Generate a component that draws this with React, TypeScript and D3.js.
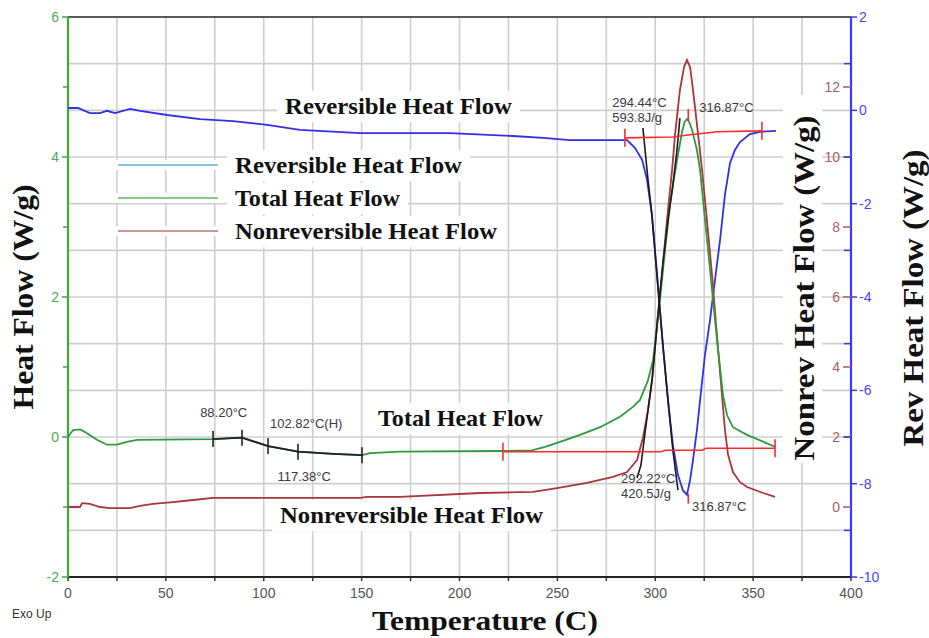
import React from "react";
import * as d3 from "d3";

// ---------------- Data ----------------
const xTickLabels = [0, 50, 100, 150, 200, 250, 300, 350, 400];
const xMinorTicks = [25, 75, 125, 175, 225, 275, 325, 375];
const gridTemps = [25, 50, 75, 100, 125, 150, 175, 200, 225, 250, 275, 300, 325, 350, 375];
const leftTicks = [-2, 0, 2, 4, 6];
const leftMinor = [-1, 1, 3, 5];
const nonrevTicks = [0, 2, 4, 6, 8, 10, 12];
const revTicks = [-10, -8, -6, -4, -2, 0, 2];
const revMinor = [-9, -7, -5, -3, -1, 1];
const gridRev = [-9, -8, -7, -6, -5, -4, -3, -2, -1, 0, 1];

// Reversible heat flow (Rev axis, W/g)
const revT = [0, 5.1, 11.2, 16.3, 19.9, 24, 31.7, 36.8, 50.6, 67.4, 84.3, 101.7, 118.5, 149.2, 195.1, 227.3, 242.7, 256.4, 283.5, 285.6, 289.7, 293.3, 295.8, 298.3, 301.4, 303.9, 306.5, 309, 311.6, 314.1, 316.2, 317.8, 319.3, 321.3, 322.9, 325.4, 328, 330.5, 333.1, 335.6, 338.2, 340.7, 343.3, 348.4, 353.5, 361.7];
const revV = [0.05, 0.05, -0.06, -0.06, -0.01, -0.06, 0.03, -0.01, -0.1, -0.19, -0.23, -0.31, -0.42, -0.49, -0.49, -0.55, -0.59, -0.64, -0.64, -0.64, -0.81, -1.06, -1.49, -2.24, -3.74, -5.03, -6.21, -7.17, -7.81, -8.14, -8.24, -7.92, -7.49, -6.85, -6.21, -5.24, -4.49, -3.64, -2.78, -1.81, -1.13, -0.85, -0.68, -0.51, -0.46, -0.44];

// Total heat flow (left axis, W/g)
const totT = [0, 2.6, 6.1, 8.7, 14.8, 19.9, 25, 30.1, 35.2, 74.1, 88.9, 102.2, 117.5, 135.4, 150.2, 154.3, 169.6, 222.2, 237, 243.7, 251.3, 261.6, 271.8, 282, 288.6, 292.2, 296.3, 298.9, 302.4, 305, 307.5, 309.6, 311.6, 313.7, 315, 316.2, 317.2, 318.8, 321.3, 322.9, 324.4, 327, 329.5, 332.1, 334.6, 336.7, 339.7, 346.9, 357.1, 361.2];
const totV = [0, 0.1, 0.11, 0.07, -0.04, -0.11, -0.11, -0.07, -0.04, -0.03, -0.01, -0.13, -0.21, -0.24, -0.26, -0.23, -0.21, -0.2, -0.19, -0.14, -0.07, 0.03, 0.14, 0.29, 0.43, 0.53, 0.81, 1.1, 1.96, 2.67, 3.31, 3.7, 4.03, 4.36, 4.5, 4.54, 4.51, 4.39, 4.1, 3.81, 3.39, 2.67, 1.96, 1.24, 0.6, 0.31, 0.14, 0.03, -0.09, -0.14];

// Nonreversible heat flow (Nonrev axis, W/g)
const nonT = [0, 6.1, 7.2, 11.2, 16.3, 21.5, 31.7, 36.8, 43.4, 53.6, 63.9, 74.1, 149.2, 152.7, 169.6, 210.5, 237.5, 249.8, 265.1, 278.4, 285.6, 290.7, 293.8, 296.3, 298.4, 301.4, 304, 306, 308.6, 310.1, 312.6, 314.7, 316.2, 317.8, 319.3, 321.8, 323.9, 326.4, 329, 331.5, 334.1, 335.6, 337.2, 339.7, 343.3, 346.9, 355.1, 361.2];
const nonV = [0, 0, 0.11, 0.09, 0, -0.03, -0.03, 0.03, 0.09, 0.14, 0.2, 0.26, 0.26, 0.29, 0.29, 0.4, 0.43, 0.54, 0.69, 0.86, 1.0, 1.34, 2.0, 2.77, 3.66, 5.49, 7.0, 8.2, 9.63, 10.63, 11.91, 12.57, 12.77, 12.57, 11.91, 10.69, 9.63, 8.2, 6.63, 4.91, 3.2, 2.2, 1.49, 1.0, 0.71, 0.57, 0.4, 0.29];

// Glass transition analysis segment (left axis)
const gtT = [74.1, 88.9, 102.2, 117.5, 135.4, 150.2];
const gtV = [-0.03, -0.01, -0.13, -0.21, -0.24, -0.26];
const gtTickT = [74.1, 88.9, 102.2, 117.5, 150.2];
const gtTickV = [-0.03, -0.01, -0.13, -0.21, -0.26];

// Peak analysis overlays
const blk1T = [290.7, 292.7, 294.3, 296.3, 298.4, 301.4, 304, 306.5, 309, 311.1, 312.6]; // nonrev axis
const blk1V = [0.83, 1.2, 1.91, 2.77, 3.63, 5.49, 7.0, 8.2, 9.2, 10.2, 11.11];
const blk2T = [293.7, 294.8, 296.3, 298.3, 301.4, 303.9, 306.5, 309, 311.6]; // rev axis
const blk2V = [-0.38, -0.85, -1.49, -2.24, -3.81, -5.03, -6.21, -7.28, -8.14];

// Integration baselines
const upBaseT = [284.5, 309.1, 316.7, 331.5, 354.5]; // rev axis
const upBaseV = [-0.59, -0.57, -0.53, -0.46, -0.44];
const lowBaseT = [222.2, 303, 305, 324, 326, 361.2]; // left axis
const lowBaseV = [-0.21, -0.21, -0.19, -0.19, -0.16, -0.16];

const peakT = 316.87;
const peakTotV = 4.6;
const peakRevV = -8.3;

// Annotation texts: [text, T, left-axis value]
const annTexts = ["88.20°C", "102.82°C(H)", "117.38°C", "294.44°C", "593.8J/g", "316.87°C", "292.22°C", "420.5J/g", "316.87°C"];
const annT = [67.5, 103.2, 107.0, 278.0, 278.0, 322.5, 282.5, 282.5, 318.8];
const annV = [0.36, 0.2, -0.55, 4.79, 4.57, 4.71, -0.59, -0.8, -0.98];

const seriesNames = ["Reversible Heat Flow", "Total Heat Flow", "Nonreversible Heat Flow"];

// ---------------- Chart ----------------
const W = 929;
const H = 638;
const L = 68, R = 851, T = 17, B = 577;

const x = d3.scaleLinear().domain([0, 400]).range([L, R]);
const yL = d3.scaleLinear().domain([-2, 6]).range([B, T]);
const yN = d3.scaleLinear().domain([-2, 14]).range([B, T]);
const yR = d3.scaleLinear().domain([-10, 2]).range([B, T]);

const SERIF = "'Liberation Serif','Times New Roman',serif";
const SANS = "'Liberation Sans',Arial,sans-serif";

function path(ts: number[], vs: number[], ys: d3.ScaleLinear<number, number>) {
  const gen = d3
    .line<number>()
    .x((d) => x(d))
    .y((_, i) => ys(vs[i]));
  return gen(ts) || "";
}

function BoxText(props: { text: string; x0: number; w: number; cy: number; size: number }) {
  const { text, x0, w, cy, size } = props;
  return (
    <g>
      <rect x={x0 - 8} y={cy - size * 0.62} width={w + 16} height={size * 1.3} fill="#fff" />
      <text
        x={x0}
        y={cy + size * 0.33}
        fontFamily={SERIF}
        fontWeight="bold"
        fontSize={size}
        textLength={w}
        lengthAdjust="spacingAndGlyphs"
        fill="#111"
      >
        {text}
      </text>
    </g>
  );
}

export default function App() {
  const legendColors = ["#5ab4dc", "#5cb85c", "#b87a68"];
  const legendY = [165, 198, 231];
  const legendW = [227, 165, 262];

  return (
    <svg
      width={W}
      height={H}
      viewBox={`0 0 ${W} ${H}`}
      style={{ position: "absolute", left: 0, top: 0, background: "#fff" }}
    >
      <rect x={0} y={0} width={W} height={H} fill="#fff" />
      {/* grid */}
      <g stroke="#cfcfcf" strokeWidth={1.6}>
        {gridTemps.map((t) => (
          <line key={"gx" + t} x1={x(t)} x2={x(t)} y1={T} y2={B} />
        ))}
        {gridRev.map((v) => (
          <line key={"gy" + v} x1={L} x2={R} y1={yR(v)} y2={yR(v)} />
        ))}
      </g>

      {/* white label boxes */}
      <rect x={783} y={95} width={39} height={368} fill="#fff" />
      <BoxText text={seriesNames[0]} x0={285} w={227} cy={106} size={24} />
      {seriesNames.map((s, i) => (
        <g key={"lg" + i}>
          <rect x={112} y={legendY[i] - 5} width={112} height={10} fill="#fff" />
          <BoxText text={s} x0={235} w={legendW[i]} cy={legendY[i]} size={24} />
          <line x1={118} x2={218} y1={legendY[i]} y2={legendY[i]} stroke={legendColors[i]} strokeWidth={1.6} />
        </g>
      ))}
      <BoxText text={seriesNames[1]} x0={378} w={165} cy={418} size={24} />
      <BoxText text={seriesNames[2]} x0={280} w={263} cy={515} size={24} />

      {/* frame */}
      <line x1={L} x2={R} y1={T} y2={T} stroke="#222" strokeWidth={1.6} />
      <line x1={L} x2={R} y1={B} y2={B} stroke="#222" strokeWidth={2} />
      <line x1={L} x2={L} y1={T} y2={B} stroke="#3daa3d" strokeWidth={2.2} />
      <line x1={R} x2={R} y1={T} y2={B} stroke="#3a3aff" strokeWidth={2.2} />

      {/* x ticks */}
      {xTickLabels.map((t) => (
        <g key={"xt" + t}>
          <line x1={x(t)} x2={x(t)} y1={B} y2={B + 4} stroke="#333" strokeWidth={1.5} />
          <text x={x(t)} y={B + 21} textAnchor="middle" fontFamily={SANS} fontSize={14} fill="#555">
            {t}
          </text>
        </g>
      ))}
      {xMinorTicks.map((t) => (
        <line key={"xm" + t} x1={x(t)} x2={x(t)} y1={B} y2={B + 4} stroke="#333" strokeWidth={1.5} />
      ))}

      {/* left axis */}
      {leftTicks.map((v) => (
        <g key={"lt" + v}>
          <line x1={L - 6} x2={L} y1={yL(v)} y2={yL(v)} stroke="#3daa3d" strokeWidth={1.5} />
          <text x={L - 9} y={yL(v) + 5} textAnchor="end" fontFamily={SANS} fontSize={14} fill="#4caf50">
            {v}
          </text>
        </g>
      ))}
      {leftMinor.map((v) => (
        <line key={"lm" + v} x1={L - 5} x2={L} y1={yL(v)} y2={yL(v)} stroke="#3daa3d" strokeWidth={1.5} />
      ))}

      {/* nonrev axis (inside right) */}
      {nonrevTicks.map((v) => (
        <g key={"nt" + v}>
          <line x1={R - 8} x2={R} y1={yN(v)} y2={yN(v)} stroke="#a85a5a" strokeWidth={1.5} />
          <text x={R - 11} y={yN(v) + 5} textAnchor="end" fontFamily={SANS} fontSize={14} fill="#a86060">
            {v}
          </text>
        </g>
      ))}
      {revMinor.map((v) => (
        <line key={"rm" + v} x1={R - 7} x2={R} y1={yR(v)} y2={yR(v)} stroke="#3a3aff" strokeWidth={1.5} />
      ))}
      {/* rev axis */}
      {revTicks.map((v) => (
        <g key={"rt" + v}>
          <line x1={R} x2={R + 6} y1={yR(v)} y2={yR(v)} stroke="#3a3aff" strokeWidth={1.5} />
          <text x={R + 8} y={yR(v) + 5} textAnchor="start" fontFamily={SANS} fontSize={14} fill="#4545ff">
            {v}
          </text>
        </g>
      ))}

      {/* curves */}
      <path d={path(revT, revV, yR)} fill="none" stroke="#3030e8" strokeWidth={1.8} />
      <path d={path(nonT, nonV, yN)} fill="none" stroke="#a8363a" strokeWidth={1.8} />
      <path d={path(totT, totV, yL)} fill="none" stroke="#2f9a3c" strokeWidth={1.8} />

      {/* analysis overlays */}
      <path d={path(gtT, gtV, yL)} fill="none" stroke="#222" strokeWidth={1.8} />
      <path d={path(blk1T, blk1V, yN)} fill="none" stroke="#1a1a1a" strokeWidth={1.6} />
      <path d={path(blk2T, blk2V, yR)} fill="none" stroke="#1a1a1a" strokeWidth={1.6} />
      <path d={path(upBaseT, upBaseV, yR)} fill="none" stroke="#ff2a2a" strokeWidth={1.6} />
      <path d={path(lowBaseT, lowBaseV, yL)} fill="none" stroke="#ff2a2a" strokeWidth={1.6} />

      {gtTickT.map((t, i) => (
        <line key={"gtt" + i} x1={x(t)} x2={x(t)} y1={yL(gtTickV[i]) - 8} y2={yL(gtTickV[i]) + 8} stroke="#222" strokeWidth={1.6} />
      ))}
      {[0, upBaseT.length - 1].map((i) => (
        <line key={"ub" + i} x1={x(upBaseT[i])} x2={x(upBaseT[i])} y1={yR(upBaseV[i]) - 9} y2={yR(upBaseV[i]) + 9} stroke="#ff2a2a" strokeWidth={1.6} />
      ))}
      {[0, lowBaseT.length - 1].map((i) => (
        <line key={"lb" + i} x1={x(lowBaseT[i])} x2={x(lowBaseT[i])} y1={yL(lowBaseV[i]) - 9} y2={yL(lowBaseV[i]) + 9} stroke="#ff2a2a" strokeWidth={1.6} />
      ))}
      <line x1={x(peakT)} x2={x(peakT)} y1={yL(peakTotV) - 6} y2={yL(peakTotV) + 6} stroke="#ff2a2a" strokeWidth={1.6} />
      <line x1={x(peakT)} x2={x(peakT)} y1={yR(peakRevV) - 4} y2={yR(peakRevV) + 6} stroke="#ff2a2a" strokeWidth={1.6} />

      {/* annotation labels */}
      {annTexts.map((s, i) => (
        <text key={"an" + i} x={x(annT[i])} y={yL(annV[i]) + 5} fontFamily={SANS} fontSize={13} fill="#3a3a3a">
          {s}
        </text>
      ))}

      {/* Exo Up */}
      <text x={12} y={618} fontFamily={SANS} fontSize={12} fill="#333">
        Exo Up
      </text>

      {/* axis titles */}
      <text x={372} y={630} fontFamily={SERIF} fontWeight="bold" fontSize={27} textLength={226} lengthAdjust="spacingAndGlyphs" fill="#111">
        Temperature (C)
      </text>
      <text
        transform="translate(33,297) rotate(-90)"
        textAnchor="middle"
        fontFamily={SERIF}
        fontWeight="bold"
        fontSize={29}
        textLength={225}
        lengthAdjust="spacingAndGlyphs"
        fill="#111"
      >
        Heat Flow (W/g)
      </text>
      <text
        transform="translate(814,288) rotate(-90)"
        textAnchor="middle"
        fontFamily={SERIF}
        fontWeight="bold"
        fontSize={29}
        textLength={345}
        lengthAdjust="spacingAndGlyphs"
        fill="#111"
      >
        Nonrev Heat Flow (W/g)
      </text>
      <text
        transform="translate(923,298) rotate(-90)"
        textAnchor="middle"
        fontFamily={SERIF}
        fontWeight="bold"
        fontSize={29}
        textLength={297}
        lengthAdjust="spacingAndGlyphs"
        fill="#111"
      >
        Rev Heat Flow (W/g)
      </text>
    </svg>
  );
}
